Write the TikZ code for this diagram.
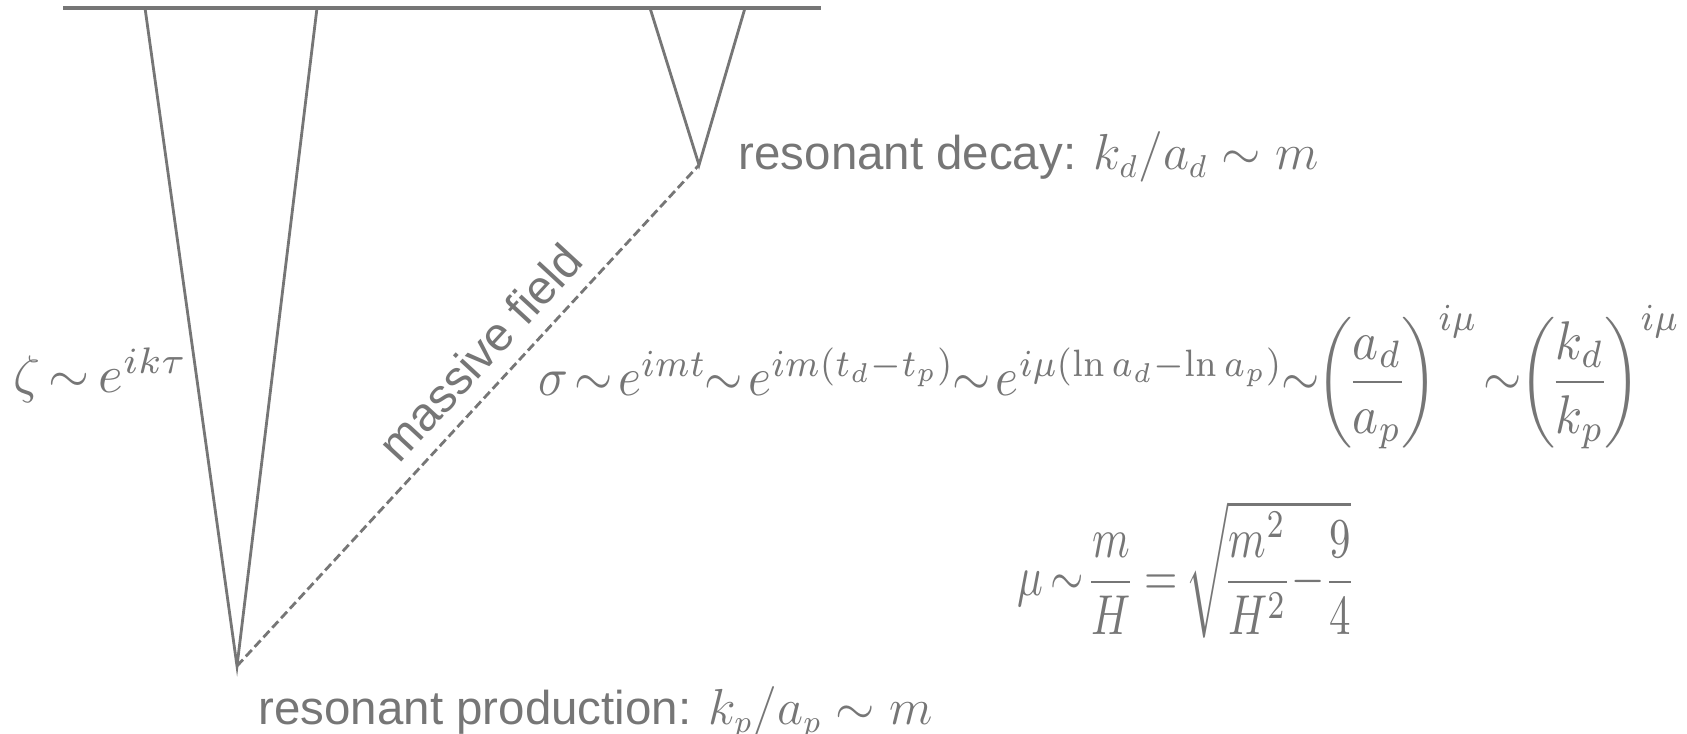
\documentclass[tikz,border=0pt]{standalone}
\usepackage{amsmath, amssymb}
\usepackage{fontspec}
\newfontfamily\labelfont{Liberation Sans}
\usepackage{tikz}
\usetikzlibrary{calc}
\definecolor{inkgray}{RGB}{118,118,118}
\newcommand{\tightmath}{\thickmuskip=3mu\relax\medmuskip=2mu\relax\nulldelimiterspace=0pt\relax}
\newcommand{\tightermath}{\thickmuskip=2mu\relax\medmuskip=1mu\relax\nulldelimiterspace=0pt\relax}

\begin{document}
\begin{tikzpicture}[
    line/.style={inkgray, line width=0.8pt},
    field/.style={inkgray, line width=0.8pt, dash pattern=on 2.5pt off 1.2pt},
    words/.style={inkgray, inner sep=0pt, font=\labelfont\fontsize{13.5}{16}\selectfont},
    formula/.style={inkgray, inner sep=0pt, font=\tightmath}
  ]
  \useasboundingbox (0,0) rectangle (16.87,7.34);
  % end of inflation
  \draw[inkgray, line width=1.1pt] (0.63,7.26) -- (8.21,7.26);
  \coordinate (pL) at (1.45,7.26);
  \coordinate (pR) at (3.17,7.26);
  \coordinate (dL) at (6.50,7.26);
  \coordinate (dR) at (7.45,7.26);
  \coordinate (prod) at (2.37,0.68);
  \coordinate (dec) at (6.99,5.69);
  \draw[line] (pL) -- (prod) -- (pR);
  \draw[line] (dL) -- (dec) -- (dR);
  \draw[field] (prod) -- (dec) node[words, pos=0.58, sloped, above=0.15cm] (mf) {massive field};
  % labels
  \node[words, anchor=base west] (dlab) at (7.38,5.64) {resonant decay: $k_d/a_d \sim m$};
  \node[words, anchor=base west] (plab) at (2.58,0.09) {resonant production: $k_p/a_p \sim m$};
  \node[formula, scale=1.5, anchor=base west] (zeta) at (0.12,3.41) {$\zeta \sim e^{ik\tau}$};
  \node[formula, xscale=1.4, yscale=1.55, anchor=base west, font=\tightermath] (sig) at (5.38,3.38)
    {$\sigma \sim e^{imt}\!\sim e^{im(t_d-t_p)}\!\sim e^{i\mu(\ln a_d-\ln a_p)}\!\sim\!\left(\dfrac{a_d}{a_p}\right)^{i\mu}\sim\!\left(\dfrac{k_d}{k_p}\right)^{i\mu}$};
  \node[formula, xscale=1.22, yscale=1.6, anchor=base west] (mu) at (10.17,1.38)
    {$\mu \sim \dfrac{m}{H}\;= \sqrt{\dfrac{m^2}{H^2}-\dfrac{9}{4}}$};
\end{tikzpicture}
\end{document}
